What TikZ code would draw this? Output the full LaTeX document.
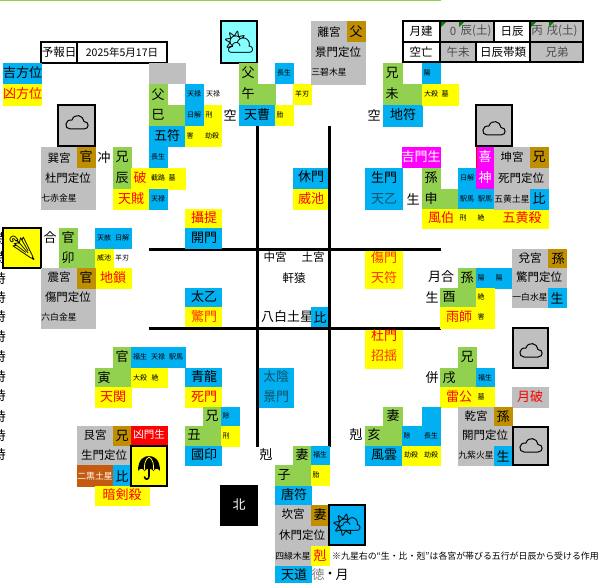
\documentclass[tikz,border=0pt]{standalone}
\usepackage{fontspec}
\setmainfont{Noto Sans CJK JP}
\newfontfamily\emojifont{Noto Emoji}
\definecolor{cblue}{HTML}{00B0F0}
\definecolor{cyel}{HTML}{FFFF00}
\definecolor{cgrn}{HTML}{92D050}
\definecolor{cgry}{HTML}{BFBFBF}
\definecolor{cbrn}{HTML}{BF8F00}
\definecolor{cmag}{HTML}{FF00FF}
\definecolor{cred}{HTML}{FF0000}
\definecolor{corg}{HTML}{C55A11}
\definecolor{ccyan}{HTML}{85FFFF}
\definecolor{cteal}{HTML}{10506E}
\definecolor{cpale}{HTML}{FF3300}
\newcount\tn
\newcommand\BX[5]{\fill[#5] (#1,#2) rectangle (#3,#4);}
\newcommand\IC[5]{\draw[iconbox,fill=#5] (#1,#2) rectangle (#3,#4);}
\newcommand\TX[4][lab]{\global\advance\tn by 1 \node[#1] (t\the\tn) at (#2,#3) {#4};}
\newcommand\RD[3]{\TX[lab,text=red]{#1}{#2}{#3}}
\newcommand\WH[3]{\TX[lab,text=white]{#1}{#2}{#3}}
\newcommand\MD[3]{\TX[med]{#1}{#2}{#3}}
\newcommand\SM[3]{\TX[tiny8]{#1}{#2}{#3}}
\newcommand\XS[3]{\TX[star]{#1}{#2}{#3}}
\newcommand\CLD[2]{\draw[line width=1pt,shift={(#1,#2)},x=1pt,y=-1pt] (-7,7) -- (7,7) .. controls (12.5,7) and (12.5,-0.5) .. (7,-0.5) .. controls (6.5,-7) and (-3,-9) .. (-5,-2) .. controls (-12.5,-3) and (-13,7) .. (-7,7) -- cycle;}
\tikzset{
 lab/.style={inner sep=0,font=\fontsize{13}{13}\selectfont},
 med/.style={inner sep=0,font=\fontsize{11.5}{12}\selectfont},
 tiny8/.style={inner sep=0,font=\fontsize{7}{7}\selectfont},
 star/.style={inner sep=0,font=\fontsize{8.8}{9}\selectfont},
 iconbox/.style={draw=black,line width=1.8pt},
 grid/.style={draw=black,line width=3pt},
 tbl/.style={draw=black,line width=1.8pt},
 icon/.style={inner sep=0,font=\emojifont\fontsize{24}{24}\selectfont},
}
\begin{document}
\begin{tikzpicture}[x=1pt,y=-1pt]
\useasboundingbox (0,0) rectangle (600,583);
\fill[white] (0,0) rectangle (600,583);
\fill[cgrn] (0,0) rectangle (441,1);
% ---- grid lines
\draw[grid] (149,249) -- (441,249);
\draw[grid] (149,328) -- (441,328);
\draw[grid] (257.5,126) -- (257.5,447);
\draw[grid] (329.5,126) -- (329.5,447);
% ---- left clipped column
\foreach \yy in {239,258,279,298,317,337,357,377,396,417,436,455}{\global\advance\tn by 1 \node[lab] (t\the\tn) at (-0.5,\yy) {時};}
% ---- date box
\draw[tbl,fill=white] (41,42) rectangle (167,63);
\draw[tbl] (77,42) -- (77,63);
\MD{59}{52}{予報日}
\TX[inner sep=0,font=\fontsize{10.5}{11}\selectfont]{122}{52}{2025年5月17日}
% ---- lucky
\BX{3}{63}{42}{84}{cblue}\BX{3}{84}{42}{106}{cyel}
\TX{22.5}{73}{吉方位}\RD{22.5}{94}{凶方位}
% ---- NW-ish 巳
\BX{149}{63}{186}{84}{cgry}
\BX{149}{84}{168}{105}{cgrn}\BX{149}{105}{186}{126}{cgrn}
\BX{149}{126}{185}{147}{cblue}\BX{185}{84}{204}{126}{cblue}
\BX{204}{105}{222}{126}{cyel}\BX{185}{126}{222}{147}{cyel}
\BX{149}{147}{168}{168}{cblue}
\TX{158}{95}{父}\TX{158}{115}{巳}\TX{167}{136}{五符}
\SM{194}{94}{天禄}\SM{213}{94}{天禄}\SM{194}{115}{日解}\SM{209}{115}{刑}
\SM{190}{136}{害}\SM{212}{136}{劫殺}\SM{158}{157}{長生}
% ---- 巽宮
\BX{41}{147}{96}{210}{cgry}\BX{77}{147}{96}{168}{cbrn}
\MD{59}{158}{巽宮}\TX{86}{157}{官}\MD{68}{178}{杜門定位}
\XS{59}{198}{七赤金星}
\TX{104}{158}{冲}
\BX{113}{147}{132}{189}{cgrn}
\BX{131}{168}{186}{190}{cyel}\BX{113}{189}{149}{210}{cyel}\BX{149}{189}{168}{210}{cblue}
\TX{122}{157}{兄}\TX{122}{178}{辰}\RD{140}{178}{破}\SM{158}{178}{截路}\SM{172}{178}{墓}
\RD{131}{199}{天賊}\SM{158}{199}{天禄}
\BX{185}{209}{222}{228}{cyel}\BX{185}{228}{222}{249}{cblue}
\RD{204}{218}{攝提}\TX{204}{238}{開門}
% ---- 卯 / 震宮
\IC{3}{228}{41}{268}{cyel}
\TX{50}{238}{合}
\BX{59}{228}{78}{249}{cgrn}\BX{59}{249}{95}{268}{cgrn}
\BX{95}{228}{132}{249}{cblue}\BX{95}{249}{114}{289}{cyel}\BX{114}{268}{132}{289}{cyel}
\TX{68}{238}{官}\TX{68}{258}{卯}\SM{104}{238}{天赦}\SM{122}{238}{日解}\SM{104}{258}{威池}\SM{122}{258}{羊刃}
\RD{113}{278}{地鎖}
\BX{41}{268}{96}{329}{cgry}\BX{77}{268}{96}{289}{cbrn}
\MD{59}{277}{震宮}\TX{86}{278}{官}\MD{68}{297}{傷門定位}\XS{59}{317}{六白金星}
\BX{185}{288}{222}{307}{cblue}\BX{185}{307}{222}{327}{cyel}
\TX{204}{297}{太乙}\TX[lab,text=cpale]{204}{317}{驚門}
% ---- 寅
\BX{113}{347}{131}{368}{cgrn}\BX{95}{368}{131}{387}{cgrn}
\BX{131}{347}{186}{368}{cblue}\BX{131}{368}{168}{388}{cyel}\BX{95}{387}{132}{408}{cyel}
\TX{122}{357}{官}\TX{104}{378}{寅}\SM{140}{357}{福生}\SM{158}{357}{天禄}\SM{176}{357}{駅馬}
\SM{140}{378}{大殺}\SM{155}{378}{絶}\RD{113}{397}{天関}
\BX{185}{368}{222}{387}{cblue}\BX{185}{387}{222}{408}{cyel}
\TX{204}{377}{青龍}\RD{204}{397}{死門}
% ---- 丑
\BX{203}{407}{221}{426}{cgrn}\BX{185}{426}{221}{446}{cgrn}
\BX{221}{407}{240}{426}{cblue}\BX{221}{426}{240}{447}{cyel}\BX{185}{446}{222}{466}{cblue}
\TX{212}{416}{兄}\TX{194}{435}{丑}\SM{226}{416}{除}\SM{226}{436}{刑}\TX{204}{455}{國印}
% ---- 艮宮
\BX{77}{426}{131}{465}{cgry}\BX{113}{426}{131}{446}{cbrn}\BX{131}{426}{168}{446}{cred}
\BX{77}{465}{113}{487}{corg}\BX{113}{465}{131}{487}{cblue}
\BX{95}{486}{150}{506}{cyel}
\MD{95}{435}{艮宮}\TX{122}{436}{兄}\TX[inner sep=0,text=white,font=\fontsize{10.5}{11}\selectfont]{149}{435}{凶門生}
\MD{104}{455}{生門定位}\TX[star,text=white]{95}{476}{二黒土星}\TX{122}{476}{比}\RD{122}{495}{暗剣殺}
\IC{131}{446}{167}{486}{cyel}
% ---- 北
\BX{220}{485}{258}{526}{black}\WH{239}{505}{北}
% ---- 子
\TX{266}{455}{剋}
\BX{293}{446}{311}{465}{cgrn}\BX{275}{465}{311}{486}{cgrn}
\BX{311}{446}{330}{465}{cblue}\BX{311}{465}{330}{486}{cyel}
\BX{275}{486}{312}{505}{cblue}
\BX{275}{505}{330}{566}{cgry}\BX{311}{505}{328}{526}{cbrn}\BX{311}{546}{330}{566}{cyel}
\BX{275}{566}{312}{583}{cblue}
\TX{302}{455}{妻}\TX{284}{475}{子}\SM{320}{455}{福生}\SM{316}{475}{胎}
\TX{294}{495}{唐符}\MD{293}{514}{坎宮}\TX{320}{515}{妻}\MD{302}{535}{休門定位}\XS{293}{556}{四緑木星}\RD{320}{556}{剋}
\TX{294}{575}{天道}
\TX[lab,text=gray]{318}{575}{徳}\TX{330}{575}{・}\TX{342}{575}{月}
\IC{329}{505}{365}{545}{cblue}
\TX[inner sep=0,anchor=west,font=\fontsize{8.9}{9}\selectfont]{332}{556}{※九星右の“生・比・剋”は各宮が帯びる五行が日辰から受ける作用}
% ---- 午 / 離宮
\IC{221}{21}{257}{63}{ccyan}
\BX{239}{63}{258}{84}{cgrn}\BX{239}{84}{276}{105}{cgrn}\BX{239}{105}{276}{126}{cblue}
\BX{275}{63}{294}{84}{cblue}\BX{293}{84}{312}{105}{cyel}\BX{275}{105}{294}{126}{cyel}
\TX{248}{73}{父}\TX{248}{94}{午}\TX{257}{115}{天曹}\TX{230}{115}{空}
\SM{284}{73}{長生}\SM{302}{94}{羊刃}\SM{280}{115}{胎}
\BX{311}{21}{366}{85}{cgry}\BX{347}{21}{366}{42}{cbrn}
\MD{329}{32}{離宮}\TX{356}{32}{父}\MD{338}{52}{景門定位}\XS{329}{72}{三碧木星}
% ---- 休門
\BX{293}{168}{328}{189}{cblue}\BX{293}{189}{328}{210}{cyel}
\TX{311}{177}{休門}\RD{311}{199}{威池}
% ---- top-right table
\fill[cgry] (440,21) rectangle (493,41);\fill[cgry] (530,21) rectangle (584,41);
\fill[cgry] (440,42) rectangle (475,63);\fill[cgry] (530,42) rectangle (584,63);
\draw[tbl] (403,21) rectangle (583,62);
\draw[tbl] (403,42) -- (583,42);
\draw[tbl] (440,21) -- (440,62);\draw[tbl] (494,21) -- (494,42);\draw[tbl] (530,21) -- (530,62);\draw[tbl] (476,42) -- (476,62);
\fill[green!50!black] (441,22) -- (446,22) -- (441,27) -- cycle;
\fill[green!50!black] (459,22) -- (464,22) -- (459,27) -- cycle;
\fill[green!50!black] (531,22) -- (536,22) -- (531,27) -- cycle;
\fill[green!50!black] (549,22) -- (554,22) -- (549,27) -- cycle;
\MD{421}{31}{月建}\MD{421}{52}{空亡}\MD{512}{31}{日辰}\MD{503}{52}{日辰帯類}
\TX[med,text=black!70]{453}{31}{0}\TX[med,text=black!70]{476}{31}{辰(土)}
\TX[med,text=black!70]{537}{31}{丙}\TX[med,text=black!70]{562}{31}{戌(土)}
\TX[med,text=black!70]{458}{52}{午未}\TX[med,text=black!70]{557}{52}{兄弟}
% ---- 未
\BX{383}{63}{403}{84}{cgrn}\BX{383}{84}{422}{105}{cgrn}\BX{383}{105}{423}{127}{cblue}
\BX{422}{63}{441}{84}{cblue}\BX{422}{84}{459}{106}{cyel}
\TX{392}{73}{兄}\TX{392}{94}{未}\TX{403}{115}{地符}\TX{374}{115}{空}
\SM{427}{73}{陽}\SM{431}{94}{大殺}\SM{445}{94}{墓}
% ---- 申 / 坤宮
\IC{476}{105}{512}{146}{cgry}
\BX{402}{147}{441}{168}{cmag}\WH{421}{157}{吉門生}
\BX{365}{168}{403}{210}{cblue}\TX{384}{178}{生門}\TX[lab,text=cteal]{384}{199}{天乙}\TX{413}{199}{生}
\BX{422}{168}{441}{189}{cgrn}\BX{422}{189}{458}{209}{cgrn}
\BX{422}{209}{549}{229}{cyel}
\BX{458}{168}{476}{209}{cblue}\BX{476}{189}{494}{209}{cblue}
\BX{476}{147}{495}{189}{cmag}
\draw[cred,line width=.7pt] (476.4,147) -- (476.4,168) (494.6,147) -- (494.6,168);
\WH{485}{157}{喜}\WH{485}{178}{神}
\BX{494}{147}{549}{210}{cgry}\BX{530}{147}{549}{168}{cbrn}\BX{530}{189}{549}{210}{cblue}
\MD{512}{157}{坤宮}\TX{539}{157}{兄}\MD{521}{178}{死門定位}\XS{512}{199}{五黄土星}\TX{539}{198}{比}
\TX{431}{178}{孫}\TX{431}{199}{申}\SM{467}{178}{日解}\SM{467}{199}{駅馬}\SM{485}{199}{駅馬}
\RD{441}{218}{風伯}\SM{463}{218}{刑}\SM{481}{218}{絶}\RD{522}{218}{五黄殺}
% ---- 傷門 / 杜門
\BX{365}{251}{403}{289}{cyel}\TX[lab,text=cpale]{384}{258}{傷門}\TX[lab,text=cpale]{384}{278}{天符}
\BX{365}{330}{403}{369}{cyel}\RD{384}{336}{杜門}\TX[lab,text=cpale]{384}{356}{招揺}
% ---- 中宮
\TX[med]{275}{257}{中宮}\TX[med]{313}{257}{土宮}\MD{294}{278}{軒猿}
\TX{287}{317}{八白土星}\BX{311}{307}{328}{327}{cblue}\TX{320}{317}{比}
\BX{259}{368}{294}{408}{cblue}
\TX[lab,text=cteal]{276}{377}{太陰}\TX[lab,text=cteal]{276}{397}{景門}
% ---- 酉 / 兌宮
\TX{441}{277}{月合}\TX{432}{297}{生}
\BX{458}{268}{476}{288}{cgrn}\BX{440}{288}{476}{307}{cgrn}
\BX{476}{268}{512}{289}{cblue}\BX{476}{288}{495}{329}{cyel}\BX{440}{307}{495}{329}{cyel}
\TX{467}{278}{孫}\TX{449}{297}{酉}\SM{481}{278}{陽}\SM{499}{278}{陽}\SM{481}{297}{絶}\SM{481}{317}{害}
\RD{459}{317}{雨師}
\BX{512}{249}{567}{308}{cgry}\BX{548}{249}{567}{268}{cbrn}\BX{548}{288}{567}{308}{cblue}
\MD{530}{258}{兌宮}\TX{558}{259}{孫}\MD{539}{277}{驚門定位}\XS{530}{297}{一白水星}\TX{557}{298}{生}
\IC{513}{328}{548}{368}{cgry}
% ---- 戌
\TX{432}{378}{併}
\BX{458}{347}{477}{368}{cgrn}\BX{440}{368}{477}{388}{cgrn}
\BX{476}{368}{495}{388}{cblue}\BX{440}{387}{495}{408}{cyel}
\TX{467}{357}{兄}\TX{449}{378}{戌}\SM{485}{378}{福生}\RD{459}{397}{雷公}\SM{481}{397}{墓}
\BX{512}{387}{549}{408}{cgry}\RD{530}{397}{月破}
% ---- 亥
\TX{356}{435}{剋}
\BX{383}{407}{403}{426}{cgrn}\BX{365}{426}{403}{446}{cgrn}\BX{365}{446}{402}{466}{cblue}
\BX{422}{407}{441}{426}{cblue}\BX{402}{426}{441}{446}{cblue}\BX{402}{446}{441}{466}{cyel}
\TX{393}{416}{妻}\TX{374}{435}{亥}\TX{384}{455}{風雲}\SM{407}{436}{除}\SM{431}{436}{長生}\SM{411}{455}{劫殺}\SM{431}{455}{劫殺}
\BX{458}{407}{512}{466}{cgry}\BX{494}{407}{513}{426}{cbrn}\BX{494}{446}{512}{466}{cblue}
\MD{476}{416}{乾宮}\TX{503}{417}{孫}\MD{485}{435}{開門定位}\XS{476}{455}{九紫火星}\TX{503}{456}{生}
\IC{513}{427}{548}{465}{cgry}
\IC{58}{105}{95}{146}{cgry}
% ---- icons
\CLD{77}{122}
\TX[icon]{239}{42}{⛅}
\CLD{494}{128}
\CLD{531}{350}
\CLD{531}{445}
\TX[icon]{22}{248}{🌂}
\TX[icon]{347}{525}{🌤}
% open umbrella, drawn
\fill[black] (138,471) .. controls (138,459) and (144,456) .. (149,456) .. controls (154,456) and (160,459) .. (160,471) .. controls (158,468) and (155,468) .. (153.5,471) .. controls (152,468) and (146,468) .. (144.5,471) .. controls (143,468) and (140,468) .. (138,471) -- cycle;
\draw[cyel,line width=.8pt] (149,457) .. controls (145,459) and (144,465) .. (144.5,470) (149,457) .. controls (153,459) and (154,465) .. (153.5,470);
\draw[black,line width=1.6pt,line cap=round] (149,468) -- (149,476) .. controls (149,480) and (145,480) .. (144.5,477);
\end{tikzpicture}
\end{document}
